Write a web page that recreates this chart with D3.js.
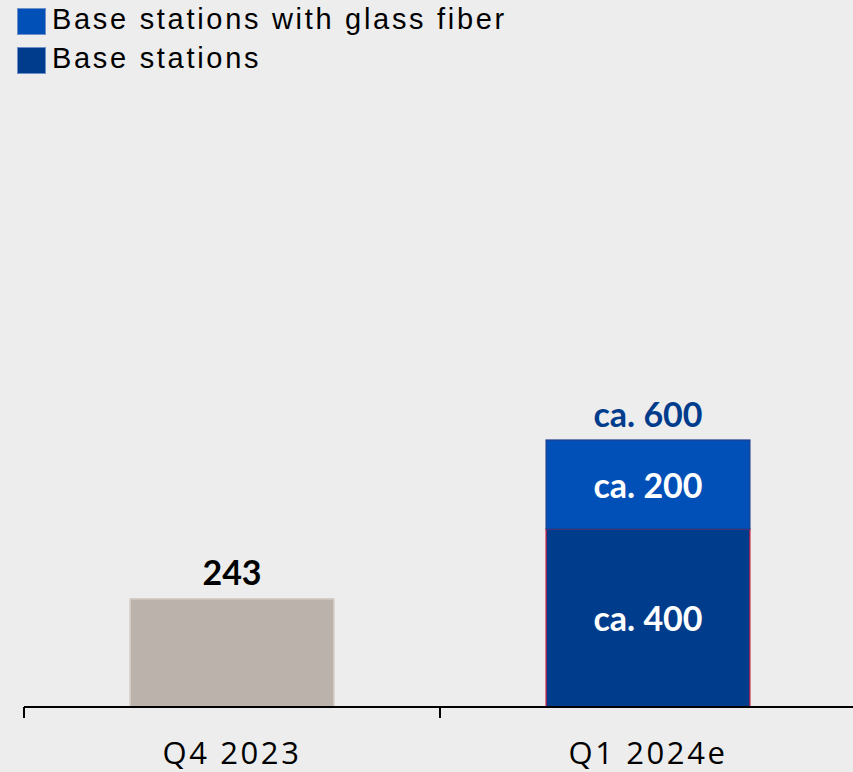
<!DOCTYPE html>
<html>
<head>
<meta charset="utf-8">
<script src="https://cdn.jsdelivr.net/npm/d3@7/dist/d3.min.js"></script>
<style>
  html, body { margin: 0; padding: 0; background: #ededed; }
  svg { display: block; }
</style>
</head>
<body>
<svg id="chart" width="853" height="772"></svg>
<script>
// Quarters on the x axis
const categories = ["Q4 2023", "Q1 2024e"];
// Total base stations reported for Q4 2023
const actualValues = [243, null];
// Estimated split for Q1 2024e
const baseStations = [null, 400];
const glassFiber = [null, 200];
// Legend entries (top to bottom)
const legendLabels = ["Base stations with glass fiber", "Base stations"];

const svg = d3.select("#chart");
const W = 853, H = 772;
svg.append("rect").attr("width", W).attr("height", H).attr("fill", "#ededed");

const x = d3.scaleBand().domain(categories).range([24, 856]).paddingInner(0).paddingOuter(0);
const y = d3.scaleLinear().domain([0, 600]).range([707, 440]);
const barW = x.bandwidth() * 0.49;

const colors = {
  actual: "#bbb3ab", actualStroke: "#d4ccc4",
  fiber: "#0050b8", fiberStroke: "#1d3f8c",
  base: "#003c8c", baseStroke: "#c8173a"
};

const labelFont = "Lato, 'Open Sans', sans-serif";

const rows = categories.map((c, i) => ({
  cat: c, actual: actualValues[i], base: baseStations[i], fiber: glassFiber[i]
}));

const g = svg.append("g");

// Q4 actual bar
rows.filter(d => d.actual != null).forEach(d => {
  const cx = x(d.cat) + x.bandwidth() / 2;
  g.append("rect")
    .attr("x", cx - barW / 2).attr("y", y(d.actual))
    .attr("width", barW).attr("height", y(0) - y(d.actual))
    .attr("fill", colors.actual).attr("stroke", colors.actualStroke).attr("stroke-width", 1.5);
  g.append("text")
    .attr("x", cx).attr("y", y(d.actual) - 14)
    .attr("text-anchor", "middle")
    .attr("font-family", labelFont).attr("font-weight", 700)
    .attr("font-size", 34).attr("fill", "#000")
    .text(d.actual);
});

// Q1 stacked bar
const stack = d3.stack().keys(["base", "fiber"]);
const stacked = stack(rows.filter(d => d.base != null));
const segStyle = {
  base: { fill: colors.base, stroke: colors.baseStroke },
  fiber: { fill: colors.fiber, stroke: colors.fiberStroke }
};
stacked.forEach(layer => {
  layer.forEach(seg => {
    const d = seg.data;
    const cx = x(d.cat) + x.bandwidth() / 2;
    const y0 = y(seg[0]), y1 = y(seg[1]);
    g.append("rect")
      .attr("x", cx - barW / 2).attr("y", y1)
      .attr("width", barW).attr("height", y0 - y1)
      .attr("fill", segStyle[layer.key].fill)
      .attr("stroke", segStyle[layer.key].stroke).attr("stroke-width", 1.2);
    g.append("text")
      .attr("x", cx).attr("y", (y0 + y1) / 2 + 13)
      .attr("text-anchor", "middle")
      .attr("font-family", labelFont).attr("font-weight", 700)
      .attr("font-size", 34).attr("fill", "#fff")
      .text("ca. " + d[layer.key]);
  });
});
// Total above stacked bar
rows.filter(d => d.base != null).forEach(d => {
  const cx = x(d.cat) + x.bandwidth() / 2;
  const total = d.base + d.fiber;
  g.append("text")
    .attr("x", cx).attr("y", y(total) - 13)
    .attr("text-anchor", "middle")
    .attr("font-family", labelFont).attr("font-weight", 700)
    .attr("font-size", 34).attr("fill", "#003c8c")
    .text("ca. " + total);
});

// X axis: baseline with ticks at band boundaries
const axis = svg.append("g");
axis.append("line").attr("x1", 24).attr("x2", W).attr("y1", y(0)).attr("y2", y(0))
  .attr("stroke", "#000").attr("stroke-width", 2);
categories.forEach(c => {
  axis.append("line").attr("x1", x(c)).attr("x2", x(c))
    .attr("y1", y(0)).attr("y2", y(0) + 11)
    .attr("stroke", "#000").attr("stroke-width", 2);
  axis.append("text")
    .attr("x", x(c) + x.bandwidth() / 2).attr("y", 764)
    .attr("text-anchor", "middle")
    .attr("font-family", "'Open Sans', sans-serif")
    .attr("font-size", 31).attr("letter-spacing", 2.6).attr("fill", "#000")
    .text(c);
});

// Legend
const legendColors = [colors.fiber, colors.base];
const legend = svg.append("g");
legendLabels.forEach((lab, i) => {
  const ly = 8 + i * 39;
  legend.append("rect").attr("x", 17.5).attr("y", ly + 0.5).attr("width", 28).attr("height", 26)
    .attr("fill", legendColors[i]).attr("stroke", "#6f8fc8").attr("stroke-width", 1);
  legend.append("text")
    .attr("x", 52).attr("y", ly + 21)
    .attr("font-family", "'Liberation Sans', Arial, sans-serif")
    .attr("font-size", 29).attr("letter-spacing", 2.7).attr("fill", "#000")
    .text(lab);
});
</script>
</body>
</html>
